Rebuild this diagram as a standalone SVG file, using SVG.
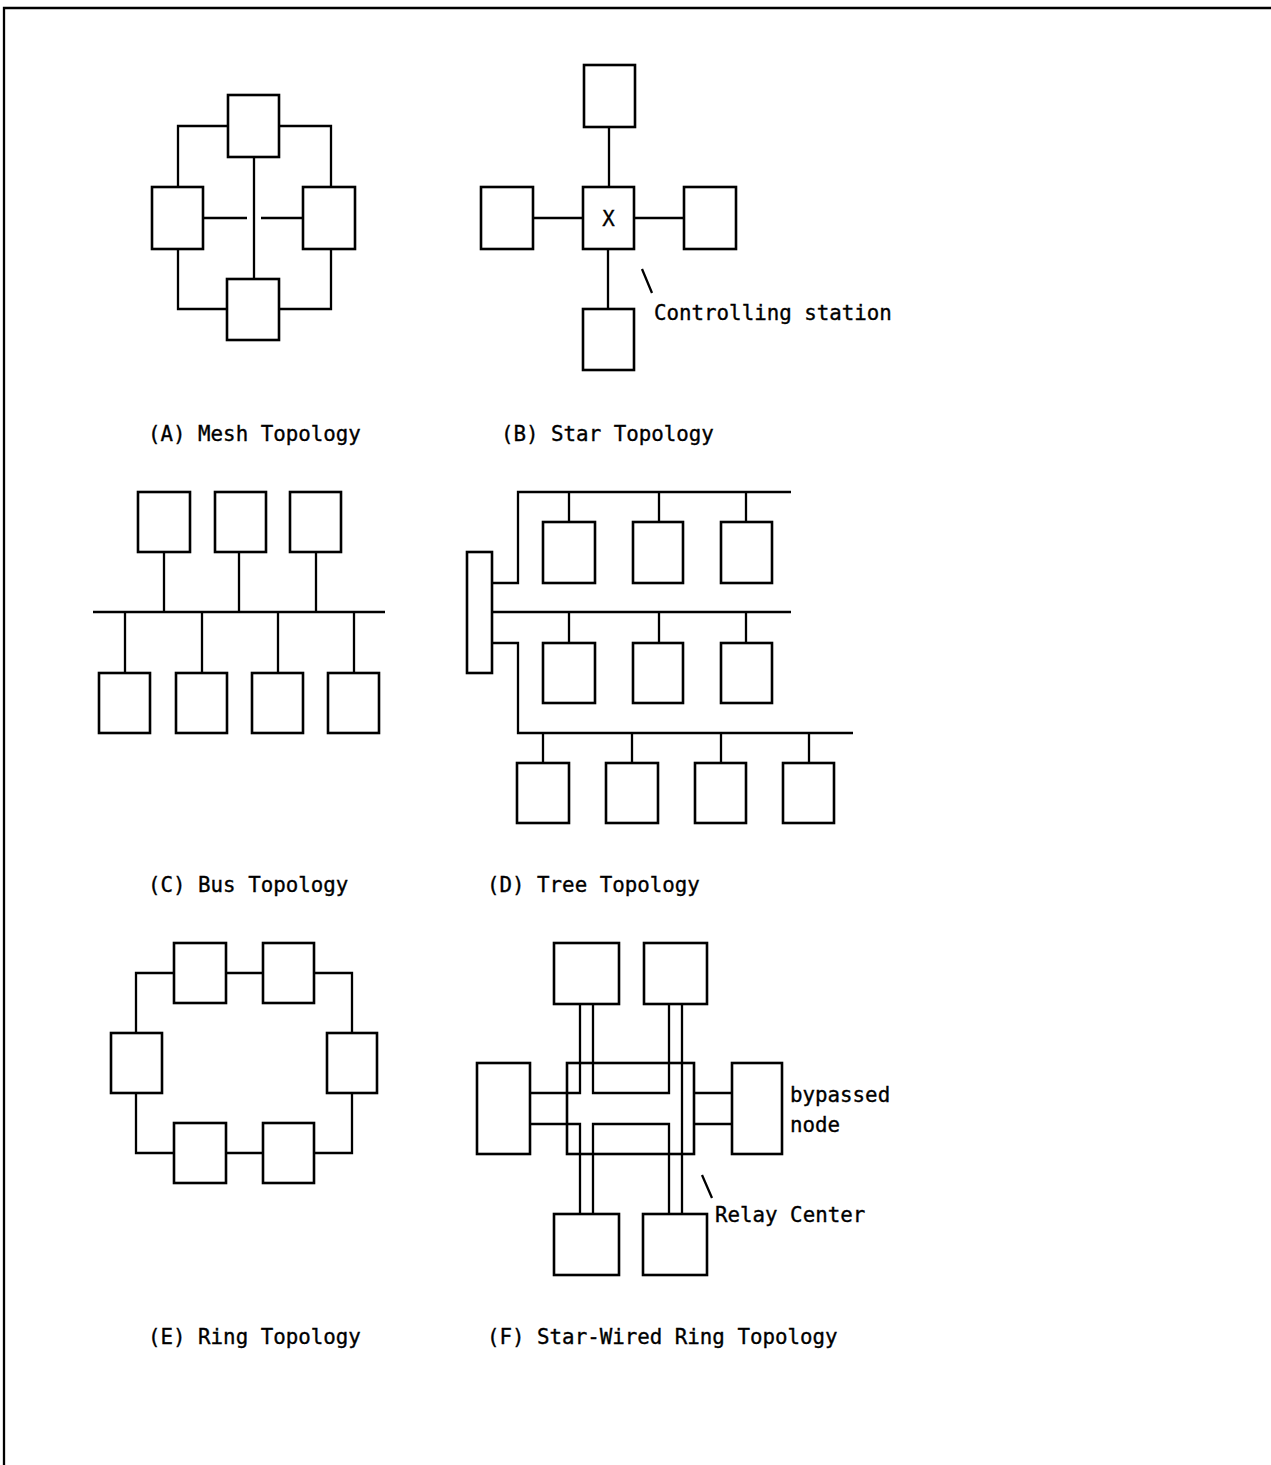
<svg xmlns="http://www.w3.org/2000/svg" width="1271" height="1465" viewBox="0 0 1271 1465">
<style>
.n{fill:#fff;stroke:#000;stroke-width:2.6}
.c{fill:none;stroke:#000;stroke-width:2.3}
.t{font-family:"DejaVu Sans Mono","Liberation Mono",monospace;font-size:20.8px;fill:#000;stroke:#000;stroke-width:0.35}
</style>
<rect x="0" y="0" width="1271" height="1465" fill="#fff"/>
<g id="frame"><path class="c" d="M4,1465 V8 H1271" stroke-width="2.8"/></g>
<g id="connectors">
<path class="c" d="M228,126 H178 V187 M279,126 H331 V187 M178,249 V309 H227 M331,249 V309 H279 M254,157 V279 M203,218 H247 M261,218 H303"/>
<path class="c" d="M609,127 V187 M608,249 V309 M533,218 H583 M634,218 H684"/>
<path class="c" d="M93,612 H385 M164,552 V612 M239,552 V612 M316,552 V612 M125,612 V673 M202,612 V673 M278,612 V673 M354,612 V673"/>
<path class="c" d="M492,583 H518 V492 H791 M492,612 H791 M492,643 H518 V733 H853 M569,492 V522 M659,492 V522 M746,492 V522 M569,612 V643 M659,612 V643 M746,612 V643 M543,733 V763 M632,733 V763 M721,733 V763 M809,733 V763"/>
<path class="c" d="M136,1033 V973 H174 M226,973 H263 M314,973 H352 V1033 M136,1093 V1153 H174 M226,1153 H263 M314,1153 H352 V1093"/>
<path class="c" d="M580,1004 V1093 H530 M593,1004 V1093 H669 V1004 M682,1004 V1214 M530,1124 H580 V1214 M593,1214 V1124 H669 V1214 M694,1093 H732 M694,1124 H732"/>
<path class="c" d="M642,269 L652,293 M702,1175 L712,1198"/>
</g>
<g id="mesh">
<rect id="mesh-top" class="n" x="228" y="95" width="51" height="62"/>
<rect id="mesh-left" class="n" x="152" y="187" width="51" height="62"/>
<rect id="mesh-right" class="n" x="303" y="187" width="52" height="62"/>
<rect id="mesh-bottom" class="n" x="227" y="279" width="52" height="61"/>
</g>
<g id="star">
<rect id="star-top" class="n" x="584" y="65" width="51" height="62"/>
<rect id="star-left" class="n" x="481" y="187" width="52" height="62"/>
<g id="star-center"><rect class="n" x="583" y="187" width="51" height="62"/>
<text class="t" x="608.5" y="226" text-anchor="middle">X</text></g>
<rect id="star-right" class="n" x="684" y="187" width="52" height="62"/>
<rect id="star-bottom" class="n" x="583" y="309" width="51" height="61"/>
</g>
<g id="bus">
<rect id="bus-t1" class="n" x="138" y="492" width="52" height="60"/>
<rect id="bus-t2" class="n" x="215" y="492" width="51" height="60"/>
<rect id="bus-t3" class="n" x="290" y="492" width="51" height="60"/>
<rect id="bus-b1" class="n" x="99" y="673" width="51" height="60"/>
<rect id="bus-b2" class="n" x="176" y="673" width="51" height="60"/>
<rect id="bus-b3" class="n" x="252" y="673" width="51" height="60"/>
<rect id="bus-b4" class="n" x="328" y="673" width="51" height="60"/>
</g>
<g id="tree">
<rect id="tree-hub" class="n" x="467" y="552" width="25" height="121"/>
<rect id="tree-r1a" class="n" x="543" y="522" width="52" height="61"/>
<rect id="tree-r1b" class="n" x="633" y="522" width="50" height="61"/>
<rect id="tree-r1c" class="n" x="721" y="522" width="51" height="61"/>
<rect id="tree-r2a" class="n" x="543" y="643" width="52" height="60"/>
<rect id="tree-r2b" class="n" x="633" y="643" width="50" height="60"/>
<rect id="tree-r2c" class="n" x="721" y="643" width="51" height="60"/>
<rect id="tree-r3a" class="n" x="517" y="763" width="52" height="60"/>
<rect id="tree-r3b" class="n" x="606" y="763" width="52" height="60"/>
<rect id="tree-r3c" class="n" x="695" y="763" width="51" height="60"/>
<rect id="tree-r3d" class="n" x="783" y="763" width="51" height="60"/>
</g>
<g id="ring">
<rect id="ring-t1" class="n" x="174" y="943" width="52" height="60"/>
<rect id="ring-t2" class="n" x="263" y="943" width="51" height="60"/>
<rect id="ring-l" class="n" x="111" y="1033" width="51" height="60"/>
<rect id="ring-r" class="n" x="327" y="1033" width="50" height="60"/>
<rect id="ring-b1" class="n" x="174" y="1123" width="52" height="60"/>
<rect id="ring-b2" class="n" x="263" y="1123" width="51" height="60"/>
</g>
<g id="starring">
<rect id="relay-center" x="567" y="1063" width="127" height="91" fill="none" stroke="#000" stroke-width="2.6"/>
<rect id="sr-t1" class="n" x="554" y="943" width="65" height="61"/>
<rect id="sr-t2" class="n" x="644" y="943" width="63" height="61"/>
<rect id="sr-l" class="n" x="477" y="1063" width="53" height="91"/>
<rect id="sr-r" class="n" x="732" y="1063" width="50" height="91"/>
<rect id="sr-b1" class="n" x="554" y="1214" width="65" height="61"/>
<rect id="sr-b2" class="n" x="643" y="1214" width="64" height="61"/>
</g>
<g id="labels">
<text class="t" x="654" y="320">Controlling station</text>
<text class="t" x="790" y="1102">bypassed</text>
<text class="t" x="790" y="1132">node</text>
<text class="t" x="715" y="1222">Relay Center</text>
<text class="t" x="148" y="441">(A) Mesh Topology</text>
<text class="t" x="501" y="441">(B) Star Topology</text>
<text class="t" x="148" y="892">(C) Bus Topology</text>
<text class="t" x="487" y="892">(D) Tree Topology</text>
<text class="t" x="148" y="1344">(E) Ring Topology</text>
<text class="t" x="487" y="1344">(F) Star-Wired Ring Topology</text>
</g>
</svg>
